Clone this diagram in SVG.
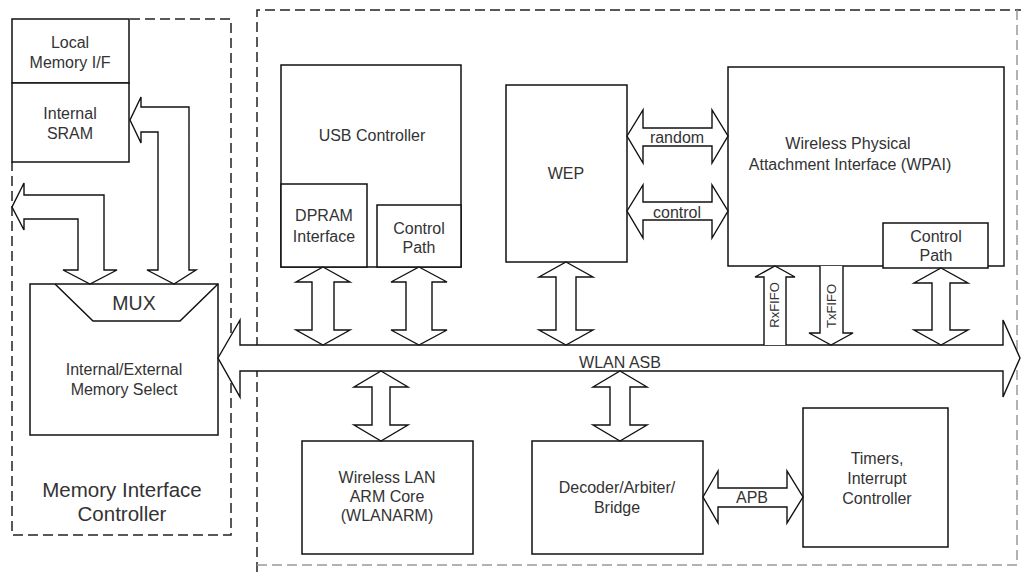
<svg xmlns="http://www.w3.org/2000/svg" width="1021" height="572" viewBox="0 0 1021 572">
<style>
.box{fill:#fff;stroke:#111;stroke-width:1.5}
.ln{fill:none;stroke:#111;stroke-width:1.5}
.arr{fill:#fff;stroke:#111;stroke-width:1.4;stroke-linejoin:miter}
.dash{fill:none;stroke:#222;stroke-width:1.5;stroke-dasharray:10 5}
text{font-family:"Liberation Sans",Arial,sans-serif;font-size:16px;fill:#333;text-anchor:middle}
.big{font-size:20.5px}
.mux{font-size:19.5px}
.fifo{font-size:13px}
</style>
<rect width="1021" height="572" fill="#fff"/>
<g id="containers">
<path class="dash" d="M130,19 H231 V535 H12 V162"/>
<path class="dash" d="M257,572 V10 H1021"/>
<path class="dash" d="M1017,10 V565 H257" style="stroke:#999"/>
</g>
<g id="local-memory-if">
<rect class="box" x="12" y="19" width="117" height="64"/>
<text x="70" y="48">Local</text><text x="70" y="68">Memory I/F</text>
</g>
<g id="internal-sram">
<rect class="box" x="12" y="83" width="117" height="79"/>
<text x="70" y="119">Internal</text><text x="70" y="139">SRAM</text>
</g>
<g id="mux-select">
<rect class="box" x="30" y="284" width="188" height="151"/>
<path class="ln" d="M55,284 L93,321 H180 L218,284"/>
<text class="mux" x="134" y="310">MUX</text>
<text x="124" y="375">Internal/External</text>
<text x="124" y="395">Memory Select</text>
</g>
<g id="mic-label">
<text class="big" x="122" y="497">Memory Interface</text>
<text class="big" x="122" y="521">Controller</text>
</g>
<g id="usb-controller">
<rect class="box" x="281" y="65" width="180" height="202"/>
<text x="372" y="141">USB Controller</text>
<rect class="box" x="281" y="184" width="86" height="83"/>
<text x="324" y="221">DPRAM</text><text x="324" y="242">Interface</text>
<rect class="box" x="377" y="205" width="84" height="62"/>
<text x="419" y="234">Control</text><text x="419" y="253">Path</text>
</g>
<g id="wep">
<rect class="box" x="506" y="85" width="121" height="177"/>
<text x="566" y="179">WEP</text>
</g>
<g id="wpai">
<rect class="box" x="728" y="67" width="276" height="199"/>
<text x="848" y="149">Wireless Physical</text>
<text x="850" y="170">Attachment Interface (WPAI)</text>
<rect class="box" x="883" y="223" width="105" height="45"/>
<text x="936" y="242">Control</text><text x="936" y="261">Path</text>
</g>
<g id="wlanarm">
<rect class="box" x="302" y="441" width="171" height="113"/>
<text x="387" y="483">Wireless LAN</text><text x="387" y="502">ARM Core</text><text x="387" y="521">(WLANARM)</text>
</g>
<g id="decoder">
<rect class="box" x="532" y="441" width="171" height="113"/>
<text x="617" y="493">Decoder/Arbiter/</text><text x="617" y="513">Bridge</text>
</g>
<g id="timers">
<rect class="box" x="803" y="408" width="145" height="139"/>
<text x="877" y="464">Timers,</text><text x="877" y="484">Interrupt</text><text x="877" y="504">Controller</text>
</g>
<g id="connectors">
<path class="arr" d="M141,107 H189 V270 H196 L174,284 L147,270 H158 V132 H141 V143 L130,120 L141,97 Z"/>
<path class="arr" d="M24,195 H104 V270 H117 L90,284 L63,270 H78 V219 H24 V230 L12,207 L24,183 Z"/>
<path class="arr" d="M218,358 L240,320 V345 H1003 V320 L1020,358 L1003,397 V371 H240 V397 Z"/>
<text x="620" y="368">WLAN ASB</text>
<path class="arr" d="M323,267 L350,282 H334 V330 H350 L323,345 L296,330 H312 V282 H296 Z"/>
<path class="arr" d="M419,267 L447,282 H432 V330 H447 L419,345 L391,330 H406 V282 H391 Z"/>
<path class="arr" d="M566,262 L593,277 H576 V330 H593 L566,345 L539,330 H556 V277 H539 Z"/>
<path class="arr" d="M941,268 L968,283 H950 V330 H968 L941,345 L914,330 H932 V283 H914 Z"/>
<path class="arr" d="M381,371 L408,387 H390 V425 H408 L381,441 L354,425 H372 V387 H354 Z"/>
<path class="arr" d="M620,371 L647,387 H630 V425 H647 L620,441 L593,425 H610 V387 H593 Z"/>
<path class="arr" d="M764,345 V277 H755 L775,266 L795,277 H786 V345"/>
<text class="fifo" transform="translate(779,305) rotate(-90)">RxFIFO</text>
<path class="arr" d="M820,266 V333 H809 L831,345 L853,333 H843 V266"/>
<text class="fifo" transform="translate(836,306) rotate(-90)">TxFIFO</text>
<path class="arr" d="M627,136 L643,110 V128 H712 V110 L728,136 L712,163 V146 H643 V163 Z"/>
<text x="677" y="143">random</text>
<path class="arr" d="M627,211 L643,185 V202 H712 V185 L728,211 L712,238 V220 H643 V238 Z"/>
<text x="677" y="218">control</text>
<path class="arr" d="M703,497 L718,471 V488 H787 V471 L803,497 L787,523 V507 H718 V523 Z"/>
<text x="752" y="503">APB</text>
</g>
</svg>
